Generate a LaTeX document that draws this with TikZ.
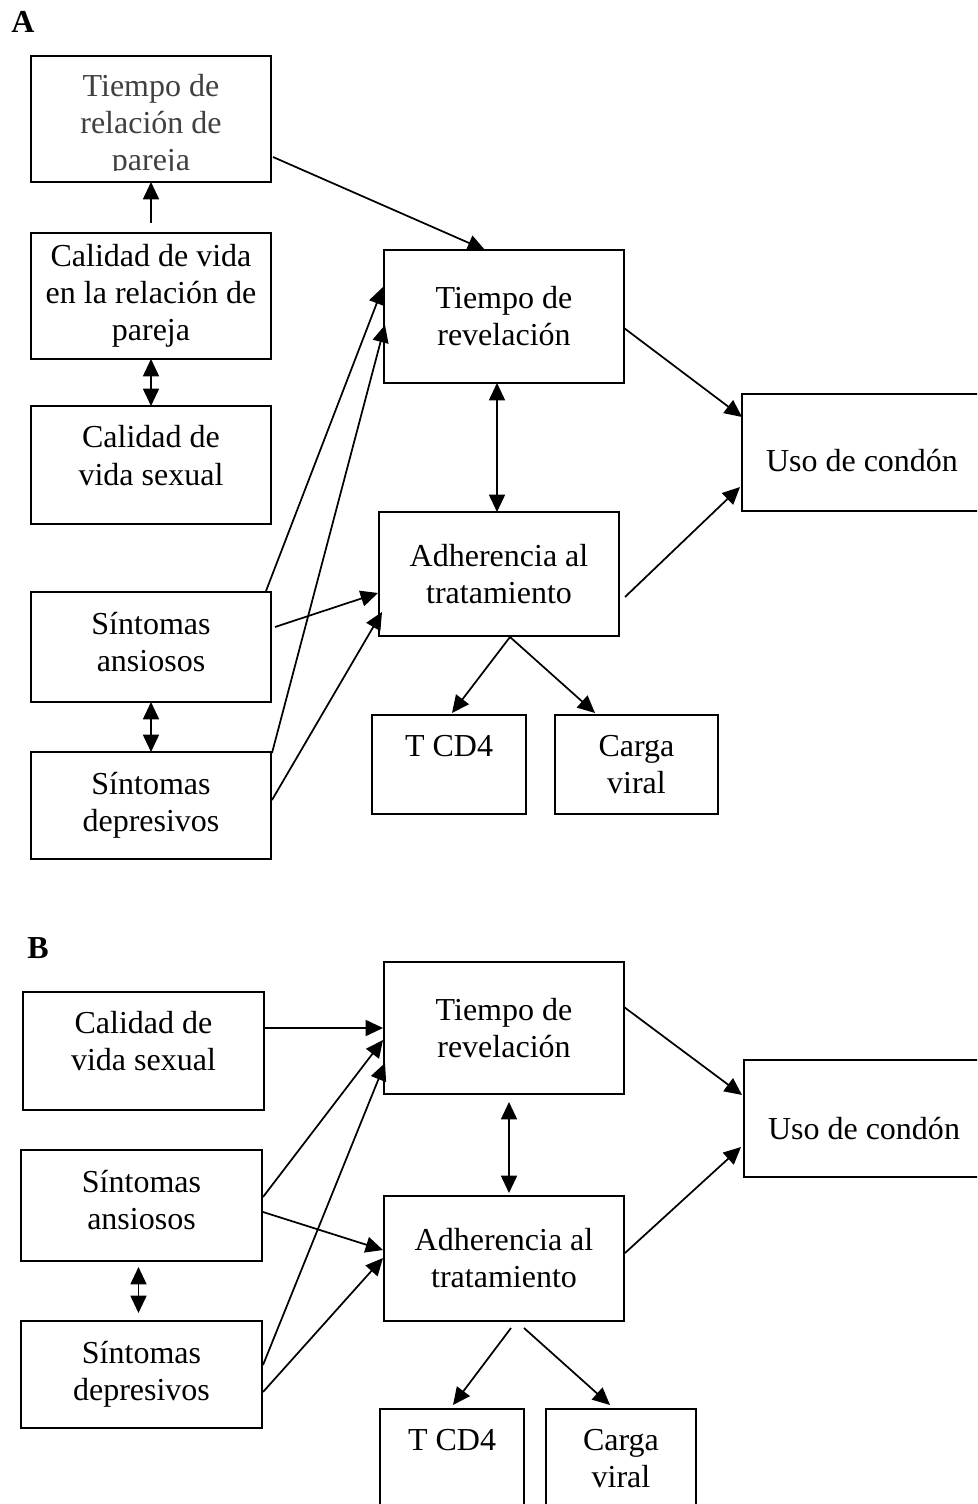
\documentclass[tikz,border=0pt]{standalone}
\usepackage{fontspec}
\setmainfont{Liberation Serif}
\usetikzlibrary{arrows.meta,calc}
\definecolor{softgray}{RGB}{64,64,64}
\tikzset{
    box/.style =    {rectangle,
                    fill=white,
                    draw=black,
                    text=black,
                    line width=0.8pt,
                    align=center,
                    inner sep=0pt,
                    outer sep=0pt,
                    font=\fontsize{12}{13.9}\selectfont},
    wh/.style 2 args = {minimum width=#1*0.375pt,
                    minimum height=#2*0.375pt},
    lower/.style =  {text height=#1},
    raise/.style =  {text depth=#1},
    panel/.style =  {font=\fontsize{12}{13.9}\selectfont\bfseries,
                    inner sep=0pt},
    -,
    arr/.style =    {-{Triangle[length=6.5pt,width=6pt]},
                    line width=0.65pt},
    dbl/.style =    {{Triangle[length=6.5pt,width=6pt]}-{Triangle[length=6.5pt,width=6pt]},
                    line width=0.65pt}}

\begin{document}
\begin{tikzpicture}[x=0.375pt,y=-0.375pt]
    \clip (0,0) rectangle (977,1504);
    \fill[white] (0,0) rectangle (977,1504);
    % panel A
    \node[panel]            (labA) at (23,22)       {A};
    \node[box,wh={240}{126},text=softgray,lower=41.5pt] (trpA) at (151,119) {Tiempo de\\relación de\\pareja};
    % text cut off at the foot of the box
    \fill[white] ($(trpA.south west)+(2,-11)$) rectangle ($(trpA.south east)+(-2,-1.2)$);
    \node[box,wh={240}{126}] (cvrA) at (151,296)    {Calidad de vida\\en la relación de\\pareja};
    \node[box,wh={240}{118},raise=7.2pt] (cvsA) at (151,465) {Calidad de\\vida sexual};
    \node[box,wh={240}{133}] (trA)  at (504,316.5)  {Tiempo de\\revelación};
    \node[box,wh={240}{117},lower=14.2pt] (ucA) at (862,452.5) {Uso de condón};
    \node[box,wh={240}{124}] (atA)  at (499,574)    {Adherencia al\\tratamiento};
    \node[box,wh={240}{110},raise=4pt] (saA) at (151,647) {Síntomas\\ansiosos};
    \node[box,wh={240}{107}] (sdA)  at (151,805.5)  {Síntomas\\depresivos};
    \node[box,wh={154}{99}]  (cdA)  at (449,764.5)  {T CD4\\\phantom{viral}};
    \node[box,wh={163}{99}]  (cvA)  at (636.5,764.5) {Carga\\viral};
    \path [arr] ($(cvrA.north)+(0,-10)$)        edge (trpA.south)
                ($(trpA.north east)+(2,101)$)   edge ($(trA.north west)+(101,0)$)
                ($(trA.north east)+(0,78)$)     edge ($(ucA.north west)+(0,23)$)
                ($(atA.north east)+(6,85)$)     edge ($(ucA.north west)+(-2,93)$)
                ($(saA.north east)+(-5,-1)$)    edge ($(trA.north west)+(-1,37)$)
                ($(saA.north east)+(4,35)$)     edge ($(atA.north west)+(-1,81)$)
                ($(sdA.north east)+(1,1)$)      edge ($(trA.north west)+(1,75)$)
                ($(sdA.north east)+(1,48)$)     edge ($(atA.north west)+(3,100)$)
                ($(atA.south west)+(131,1)$)    edge ($(cdA.north west)+(80,-2)$)
                ($(atA.south west)+(131,1)$)    edge ($(cvA.north west)+(40,-2)$);
    \path [dbl] (cvrA.south)                    edge (cvsA.north)
                ($(trA.south west)+(113,0)$)    edge ($(atA.north west)+(118,0)$)
                (saA.south)                     edge (sdA.north);
    % panel B
    \node[panel]            (labB) at (38,948)      {B};
    \node[box,wh={241}{118},raise=7.5pt] (cvsB) at (143.5,1051) {Calidad de\\vida sexual};
    \node[box,wh={240}{132}] (trB)  at (504,1028)   {Tiempo de\\revelación};
    \node[box,wh={240}{117},lower=15.7pt] (ucB) at (864,1118.5) {Uso de condón};
    \node[box,wh={240}{125}] (atB)  at (504,1258.5) {Adherencia al\\tratamiento};
    \node[box,wh={241}{111},raise=4.5pt] (saB) at (141.5,1205.5) {Síntomas\\ansiosos};
    \node[box,wh={241}{107}] (sdB)  at (141.5,1374.5) {Síntomas\\depresivos};
    \node[box,wh={144}{99}]  (cdB)  at (452,1458.5) {T CD4\\\phantom{viral}};
    \node[box,wh={150}{99}]  (cvB)  at (621,1458.5) {Carga\\viral};
    \path [arr] ($(cvsB.north east)+(0,36)$)    edge ($(trB.north west)+(-1,66)$)
                ($(trB.north east)+(0,45)$)     edge ($(ucB.north west)+(-2,35)$)
                ($(atB.north east)+(1,57)$)     edge ($(ucB.north west)+(-3,87)$)
                ($(saB.north east)+(1,47)$)     edge ($(trB.north west)+(-1,78)$)
                ($(saB.north east)+(1,62)$)     edge ($(atB.north west)+(-1,54)$)
                ($(sdB.north east)+(1,44)$)     edge ($(trB.north west)+(1,101)$)
                ($(sdB.north east)+(1,71)$)     edge ($(atB.north west)+(-1,62)$)
                ($(atB.south)+(7,7)$)           edge ($(cdB.north)+(1,-4)$)
                ($(atB.south)+(20,7)$)          edge ($(cvB.north west)+(64,-4)$);
    \path [dbl] ($(trB.south)+(5,8)$)           edge ($(atB.north)+(5,-3)$)
                ($(saB.south)+(-3,6)$)          edge ($(sdB.north)+(-3,-8)$);
\end{tikzpicture}
\end{document}
